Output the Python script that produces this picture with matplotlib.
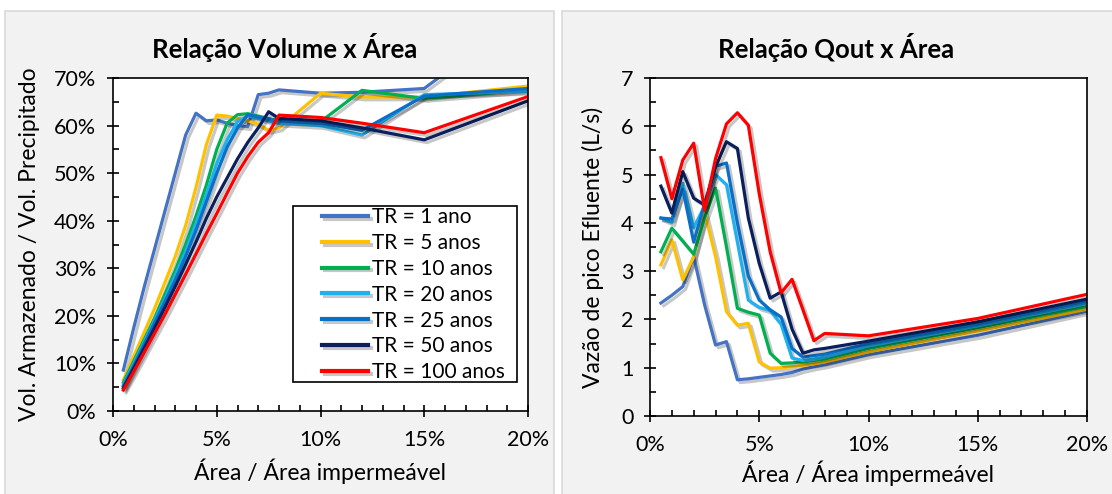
import matplotlib

matplotlib.use("Agg")
import matplotlib.patheffects as pe
import matplotlib.pyplot as plt
from matplotlib.patches import Rectangle
from matplotlib.ticker import MultipleLocator, PercentFormatter

plt.rcParams["font.family"] = ["Lato", "DejaVu Sans"]

# Area / impermeable area (%), shared by both panels
AREA = [0.5, 1, 1.5, 2, 2.5, 3, 3.5, 4, 4.5, 5, 5.5, 6, 6.5, 7, 7.5, 8, 10, 12, 15, 20]
AREA_Q = [0.5, 1, 1.5, 2, 2.5, 3, 3.5, 4, 4.5, 5, 5.5, 6, 6.5, 7, 7.5, 8, 10, 15, 20]

LABELS = ["TR = 1 ano", "TR = 5 anos", "TR = 10 anos", "TR = 20 anos",
          "TR = 25 anos", "TR = 50 anos", "TR = 100 anos"]
COLORS = ["#4472c4", "#ffc000", "#00b050", "#1fb0f0", "#0a6fc8", "#0a1f5c", "#ff0000"]

# Stored volume / precipitated volume (%)
vol_tr1 = [8.6, 17.5, 26, 34, 42, 50, 58, 62.6, 61.0, 61.2, 60.5, 60.0, 59.8, 66.5, 66.8, 67.5, 66.8, 67.0, 67.8, 84]
vol_tr5 = [6.5, 11.5, 16.5, 21.5, 27, 32.5, 39, 47, 56, 62.2, 62.0, 61.5, 61, 60.3, 59.0, 59.5, 66.8, 66.0, 66.0, 68.3]
vol_tr10 = [6, 10.5, 15, 19.5, 24.5, 29.5, 35, 41, 47.5, 55, 60.5, 62.3, 62.5, 62, 61.5, 61.0, 60.8, 67.4, 65.7, 67.5]
vol_tr20 = [5.5, 10, 14.5, 19, 23.5, 28.5, 33.5, 39.5, 45.5, 52, 57, 60.8, 62, 61.5, 61, 60.5, 60.0, 58.0, 66.5, 67.2]
vol_tr25 = [5.2, 9.5, 14, 18.5, 23, 27.5, 32.5, 38, 44, 50, 55.5, 59.5, 62.3, 61.8, 61.3, 61, 60.5, 59, 66.2, 67.8]
vol_tr50 = [4.8, 9, 13.2, 17.5, 21.8, 26.2, 30.8, 35.5, 40.5, 45, 49, 53, 56.5, 59.5, 62.9, 61.5, 61, 59.5, 57.0, 65.2]
vol_tr100 = [4.4, 8.3, 12.3, 16.3, 20.3, 24.5, 28.7, 33, 37.3, 41.5, 45.8, 50, 53.5, 56.5, 58.5, 62.2, 61.7, 60.5, 58.5, 66.1]

# Peak outflow (L/s)
q_tr1 = [2.34, 2.5, 2.68, 3.3, 2.3, 1.47, 1.54, 0.75, 0.77, 0.8, 0.83, 0.86, 0.9, 0.97, 1.02, 1.06, 1.27, 1.67, 2.17]
q_tr5 = [3.13, 3.65, 2.82, 3.3, 4.22, 3.3, 2.16, 1.88, 1.92, 1.12, 0.99, 1.0, 1.02, 1.05, 1.08, 1.12, 1.33, 1.76, 2.21]
q_tr10 = [3.4, 3.89, 3.62, 3.35, 4.1, 4.72, 3.5, 2.23, 2.15, 2.09, 1.3, 1.09, 1.1, 1.12, 1.15, 1.18, 1.4, 1.83, 2.27]
q_tr20 = [4.1, 4.0, 4.82, 3.9, 4.35, 5.0, 4.79, 3.6, 2.4, 2.25, 2.18, 1.9, 1.2, 1.15, 1.18, 1.22, 1.45, 1.87, 2.33]
q_tr25 = [4.1, 4.08, 4.7, 3.6, 4.4, 5.17, 5.24, 4.0, 2.9, 2.4, 2.2, 2.05, 1.4, 1.22, 1.25, 1.28, 1.5, 1.9, 2.38]
q_tr50 = [4.76, 4.2, 5.06, 4.51, 4.37, 5.16, 5.68, 5.54, 4.1, 3.16, 2.44, 2.57, 1.8, 1.3, 1.37, 1.4, 1.55, 1.95, 2.42]
q_tr100 = [5.35, 4.5, 5.3, 5.65, 4.26, 5.33, 6.05, 6.28, 6.02, 4.6, 3.4, 2.55, 2.83, 2.2, 1.56, 1.71, 1.66, 2.02, 2.52]

VOLUME = [vol_tr1, vol_tr5, vol_tr10, vol_tr20, vol_tr25, vol_tr50, vol_tr100]
QOUT = [q_tr1, q_tr5, q_tr10, q_tr20, q_tr25, q_tr50, q_tr100]

SHADOW = [pe.SimpleLineShadow(offset=(2, -2), shadow_color="k", alpha=0.22), pe.Normal()]


def style_axes(ax) -> None:
    for spine in ax.spines.values():
        spine.set_color("black")
        spine.set_linewidth(1.2)
    ax.xaxis.set_major_locator(MultipleLocator(5))
    ax.xaxis.set_minor_locator(MultipleLocator(1))
    ax.xaxis.set_major_formatter(PercentFormatter(xmax=100, decimals=0))
    ax.tick_params(which="major", direction="inout", length=8, width=1.2,
                   labelsize=15.5, colors="black", pad=8)
    ax.tick_params(axis="x", which="major", pad=10)
    ax.tick_params(which="minor", direction="in", length=4, width=1.2)
    ax.set_xlim(0, 20)


def main() -> None:
    fig = plt.figure(figsize=(11.12, 4.94), dpi=100)

    # chart-area panels
    for x0, w in [(5, 549), (562, 560)]:
        fig.patches.append(Rectangle((x0 / 1112, -0.05), w / 1112, 1 - 11 / 494 + 0.05,
                                     transform=fig.transFigure, facecolor="#f2f2f2",
                                     edgecolor="#d9d9d9", linewidth=1.2, zorder=-10))

    ax1 = fig.add_axes([113 / 1112, 1 - 411 / 494, 415 / 1112, 333 / 494])
    for values, label, color in zip(VOLUME, LABELS, COLORS):
        ax1.plot(AREA, values, color=color, linewidth=2.3, label=label, path_effects=SHADOW)
    style_axes(ax1)
    ax1.set_ylim(0, 70)
    ax1.yaxis.set_major_locator(MultipleLocator(10))
    ax1.yaxis.set_minor_locator(MultipleLocator(5))
    ax1.yaxis.set_major_formatter(PercentFormatter(xmax=100, decimals=0))
    ax1.set_xlabel("Área / Área impermeável", fontsize=16.5, labelpad=6)
    ax1.set_ylabel("Vol. Armazenado / Vol. Precipitado", fontsize=16.5, labelpad=10)

    # legend box (Excel-style, wider than the entries)
    ax1.add_patch(Rectangle((0.434, 0.087), 0.54, 0.529, transform=ax1.transAxes,
                            facecolor="white", edgecolor="black", linewidth=1.2, zorder=5))
    leg = ax1.legend(loc="upper left", bbox_to_anchor=(0.504, 0.612), fontsize=15,
                     frameon=False, handlelength=2.2, handletextpad=0.2,
                     labelspacing=0.28, borderpad=0, borderaxespad=0)
    leg.set_zorder(6)
    for line in leg.get_lines():
        line.set_linewidth(3)

    fig.text(285 / 1112, 1 - 48 / 494, "Relação Volume x Área", ha="center", va="center",
             fontsize=18.5, fontweight="bold")

    ax2 = fig.add_axes([650 / 1112, 1 - 416 / 494, 437 / 1112, 338 / 494])
    for values, label, color in zip(QOUT, LABELS, COLORS):
        ax2.plot(AREA_Q, values, color=color, linewidth=2.3, label=label, path_effects=SHADOW)
    style_axes(ax2)
    ax2.set_ylim(0, 7)
    ax2.yaxis.set_major_locator(MultipleLocator(1))
    ax2.yaxis.set_minor_locator(MultipleLocator(0.5))
    ax2.set_xlabel("Área / Área impermeável", fontsize=16.5, labelpad=4)
    ax2.set_ylabel("Vazão de pico Efluente (L/s)", fontsize=16.5, labelpad=12)
    fig.text(836 / 1112, 1 - 48 / 494, "Relação Qout x Área", ha="center", va="center",
             fontsize=18.5, fontweight="bold")

    fig.savefig("out.png", dpi=100, facecolor="white")
    plt.close(fig)


if __name__ == "__main__":
    main()
